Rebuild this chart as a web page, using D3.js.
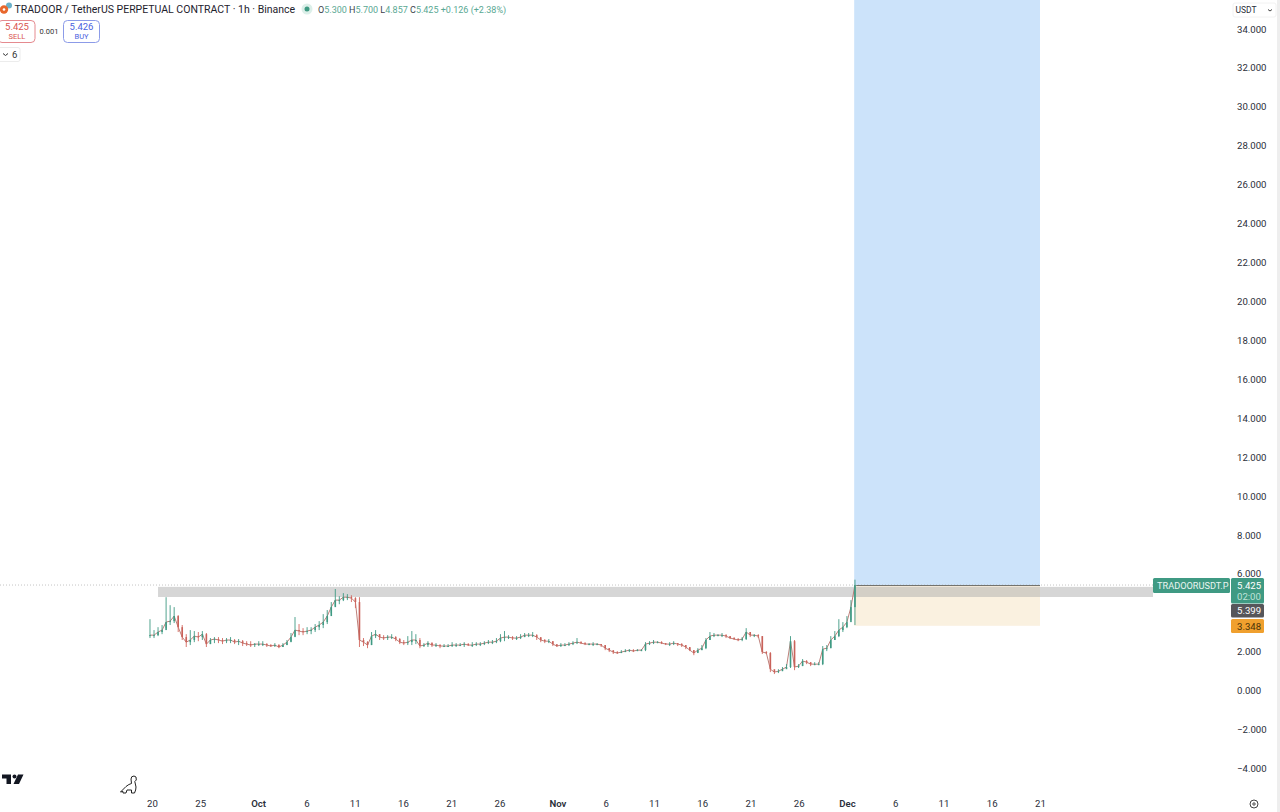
<!DOCTYPE html>
<html>

<head>
  <meta charset="utf-8">
  <script src="https://d3js.org/d3.v7.min.js"></script>
  <style>
    html, body {
      margin: 0;
      padding: 0;
      background: #fff;
      overflow: hidden;
    }

    svg {
      display: block;
      font-family: Roboto, sans-serif;
    }

    .axis text {
      font-size: 9.6px;
      fill: #2a2e39;
      font-family: Roboto, sans-serif;
    }

    .axis text.bold {
      font-weight: 600;
    }
  </style>
</head>

<body>
  <div id="chart"></div>
  <script>
    var yTicks = [34, 32, 30, 28, 26, 24, 22, 20, 18, 16, 14, 12, 10, 8, 6, 2, 0, -2, -4];

    var xTicks = ["2024-09-20", "2024-09-25", "2024-10-01", "2024-10-06", "2024-10-11", "2024-10-16",
      "2024-10-21", "2024-10-26", "2024-11-01", "2024-11-06", "2024-11-11", "2024-11-16", "2024-11-21",
      "2024-11-26", "2024-12-01", "2024-12-06", "2024-12-11", "2024-12-16", "2024-12-21"];

    // one candle every 10h
    var firstCandle = "2024-09-19T19:00";
    var candleMinutes = 601;

    var candleClose = [
      2.85, 2.85, 3.01, 3.11, 3.52, 3.57, 3.83, 3.26, 2.75, 2.49,
      2.60, 2.80, 2.75, 2.90, 2.39, 2.60, 2.65, 2.60, 2.54, 2.60,
      2.60, 2.49, 2.54, 2.44, 2.39, 2.34, 2.39, 2.39, 2.39, 2.34,
      2.29, 2.34, 2.24, 2.34, 2.49, 2.75, 3.11, 3.06, 3.01, 3.06,
      3.11, 3.26, 3.37, 3.52, 3.83, 4.29, 4.65, 4.65, 4.80, 4.80,
      4.75, 4.55, 2.60, 2.49, 2.34, 2.80, 2.90, 2.75, 2.70, 2.75,
      2.75, 2.65, 2.49, 2.44, 2.49, 2.60, 2.60, 2.29, 2.34, 2.44,
      2.34, 2.34, 2.29, 2.29, 2.29, 2.34, 2.34, 2.34, 2.39, 2.34,
      2.34, 2.39, 2.39, 2.44, 2.49, 2.49, 2.54, 2.70, 2.75, 2.75,
      2.70, 2.70, 2.75, 2.85, 2.85, 2.85, 2.75, 2.60, 2.54, 2.54,
      2.39, 2.29, 2.34, 2.34, 2.39, 2.44, 2.49, 2.44, 2.39, 2.39,
      2.39, 2.39, 2.34, 2.18, 2.08, 1.98, 1.93, 1.98, 2.03, 2.08,
      2.03, 2.08, 2.08, 2.39, 2.44, 2.49, 2.49, 2.44, 2.39, 2.39,
      2.44, 2.39, 2.34, 2.24, 2.08, 1.93, 2.08, 2.18, 2.60, 2.80,
      2.85, 2.85, 2.85, 2.80, 2.70, 2.65, 2.60, 2.65, 3.01, 2.85,
      2.85, 2.80, 1.98, 1.93, 1.10, 0.95, 1.00, 1.10, 1.21, 2.54,
      1.21, 1.26, 1.52, 1.46, 1.36, 1.36, 1.36, 2.13, 2.18, 2.60,
      2.80, 3.11, 3.26, 3.52, 4.29, 5.425
    ];

    var candleHigh = [
      3.67, 3.11, 3.26, 3.37, 4.80, 4.39, 4.29, 3.88, 3.37, 2.90,
      3.11, 3.06, 3.01, 3.06, 2.96, 2.70, 2.75, 2.75, 2.70, 2.70,
      2.75, 2.65, 2.65, 2.60, 2.54, 2.54, 2.44, 2.54, 2.54, 2.44,
      2.39, 2.44, 2.39, 2.44, 2.60, 2.96, 3.78, 3.42, 3.21, 3.26,
      3.26, 3.42, 3.57, 3.93, 4.14, 4.55, 5.22, 4.85, 5.01, 4.96,
      4.90, 4.80, 4.80, 2.70, 2.54, 3.01, 3.11, 2.90, 2.85, 2.85,
      2.90, 2.80, 2.70, 2.60, 2.80, 3.06, 2.90, 2.70, 2.44, 2.54,
      2.49, 2.44, 2.39, 2.39, 2.39, 2.49, 2.44, 2.44, 2.49, 2.44,
      2.49, 2.49, 2.49, 2.54, 2.60, 2.60, 2.70, 2.90, 3.06, 2.85,
      2.80, 2.80, 2.90, 2.96, 2.96, 3.01, 2.90, 2.70, 2.65, 2.65,
      2.54, 2.34, 2.44, 2.44, 2.49, 2.54, 2.70, 2.54, 2.49, 2.44,
      2.49, 2.44, 2.39, 2.34, 2.18, 2.03, 2.03, 2.08, 2.13, 2.13,
      2.13, 2.13, 2.13, 2.49, 2.54, 2.60, 2.54, 2.54, 2.44, 2.49,
      2.54, 2.44, 2.44, 2.34, 2.18, 2.08, 2.18, 2.34, 2.70, 3.01,
      2.96, 2.90, 2.96, 2.90, 2.80, 2.75, 2.70, 2.75, 3.21, 3.01,
      2.90, 2.90, 2.80, 2.03, 1.98, 1.05, 1.10, 1.21, 1.36, 2.80,
      2.60, 1.36, 1.62, 1.57, 1.46, 1.46, 1.46, 2.29, 2.34, 2.80,
      3.06, 3.67, 3.52, 3.83, 4.65, 5.70
    ];

    var candleLow = [
      2.70, 2.70, 2.80, 2.90, 3.21, 3.37, 3.47, 3.01, 2.60, 2.24,
      2.34, 2.49, 2.54, 2.60, 2.24, 2.39, 2.44, 2.44, 2.39, 2.44,
      2.44, 2.39, 2.34, 2.29, 2.29, 2.24, 2.24, 2.29, 2.29, 2.24,
      2.24, 2.24, 2.18, 2.24, 2.34, 2.54, 2.80, 2.85, 2.85, 2.90,
      2.90, 3.01, 3.11, 3.21, 3.42, 3.98, 4.34, 4.44, 4.60, 4.65,
      4.55, 4.24, 2.24, 2.29, 2.18, 2.34, 2.70, 2.60, 2.60, 2.60,
      2.65, 2.54, 2.39, 2.34, 2.34, 2.34, 2.39, 2.18, 2.24, 2.24,
      2.24, 2.24, 2.18, 2.24, 2.24, 2.24, 2.24, 2.29, 2.24, 2.29,
      2.24, 2.29, 2.29, 2.34, 2.39, 2.39, 2.44, 2.49, 2.54, 2.65,
      2.60, 2.60, 2.65, 2.75, 2.75, 2.75, 2.60, 2.49, 2.44, 2.44,
      2.29, 2.24, 2.24, 2.29, 2.29, 2.34, 2.39, 2.39, 2.34, 2.34,
      2.29, 2.34, 2.24, 2.08, 1.98, 1.88, 1.88, 1.93, 1.98, 1.98,
      1.98, 2.03, 2.03, 2.03, 2.34, 2.39, 2.44, 2.39, 2.34, 2.29,
      2.34, 2.29, 2.24, 2.13, 2.03, 1.82, 1.98, 2.08, 2.13, 2.60,
      2.75, 2.80, 2.75, 2.70, 2.65, 2.60, 2.54, 2.54, 2.60, 2.75,
      2.75, 2.70, 1.88, 1.88, 0.95, 0.85, 0.90, 1.00, 1.16, 1.16,
      1.05, 1.16, 1.26, 1.36, 1.26, 1.31, 1.31, 1.31, 2.03, 2.18,
      2.60, 2.75, 3.01, 3.21, 3.62, 3.37
    ];

    var lastPrice = 5.425;
    var bandTop = 5.33;
    var bandBottom = 4.81;
    var entryPrice = 5.399;
    var stopPrice = 3.33;
    var targetPrice = 36;
    var bandStart = "2024-09-20T15:00";
    var positionStart = "2024-12-01T18:00";
    var positionEnd = "2024-12-21";

    var green = "#3f9a83";
    var red = "#d4685f";

    var width = 1280, height = 812;
    var parseDay = d3.utcParse("%Y-%m-%d");
    var parseHour = d3.utcParse("%Y-%m-%dT%H:%M");

    var x = d3.scaleUtc()
      .domain([parseDay("2024-09-20"), parseDay("2024-12-21")])
      .range([152, 1040]);

    var y = d3.scaleLinear()
      .domain([0, 34])
      .range([690.6, 29]);

    var candles = candleClose.map((c, i) => ({
      time: d3.utcMinute.offset(parseHour(firstCandle), i * candleMinutes),
      open: i ? candleClose[i - 1] : c,
      high: candleHigh[i],
      low: candleLow[i],
      close: c
    }));

    var svg = d3.select("#chart").append("svg")
      .attr("width", width)
      .attr("height", height);

    svg.append("rect")
      .attr("x", 1277).attr("y", 0)
      .attr("width", 3).attr("height", height)
      .attr("fill", "#eeeeee");

    // long position tool
    var posX = x(parseHour(positionStart));
    var posW = x(parseDay(positionEnd)) - posX;

    svg.append("rect")
      .attr("x", posX).attr("y", y(targetPrice))
      .attr("width", posW).attr("height", y(entryPrice) - y(targetPrice))
      .attr("fill", "#cce3fa");

    svg.append("rect")
      .attr("x", posX).attr("y", y(entryPrice))
      .attr("width", posW).attr("height", y(stopPrice) - y(entryPrice))
      .attr("fill", "#faf1e0");

    // last price line
    svg.append("line")
      .attr("x1", 0).attr("x2", 1153)
      .attr("y1", y(lastPrice)).attr("y2", y(lastPrice))
      .attr("stroke", "#b5b5b5")
      .attr("stroke-width", 0.8)
      .attr("stroke-dasharray", "1,2");

    // grey zone
    svg.append("rect")
      .attr("x", x(parseHour(bandStart))).attr("y", y(bandTop))
      .attr("width", 1153 - x(parseHour(bandStart))).attr("height", y(bandBottom) - y(bandTop))
      .attr("fill", "#a8a8a8")
      .attr("fill-opacity", 0.47);

    svg.append("line")
      .attr("x1", posX + 2).attr("x2", posX + posW)
      .attr("y1", y(entryPrice)).attr("y2", y(entryPrice))
      .attr("stroke", "#6f6f6a")
      .attr("stroke-width", 1);

    // candles, too thin at this zoom to show as separate bars
    var candleG = svg.append("g")
      .style("filter", "blur(0.35px)");

    var closeLine = d3.line()
      .x(d => x(d.time))
      .y(d => y(d.close));

    candleG.append("path")
      .datum(candles)
      .attr("d", closeLine)
      .attr("fill", "none")
      .attr("stroke", "#b5706a")
      .attr("stroke-width", 0.9);

    candleG.selectAll("line").data(candles).enter().append("line")
      .attr("x1", d => x(d.time)).attr("x2", d => x(d.time))
      .attr("y1", d => y(d.high)).attr("y2", d => y(d.low))
      .attr("stroke", d => d.close >= d.open ? green : red)
      .attr("stroke-width", 0.9);

    candleG.selectAll("rect").data(candles).enter().append("rect")
      .attr("x", d => x(d.time) - 0.8)
      .attr("y", d => y(Math.max(d.open, d.close)))
      .attr("width", 1.6)
      .attr("height", d => Math.max(1, Math.abs(y(d.open) - y(d.close))))
      .attr("fill", d => d.close >= d.open ? green : "#c9625a");

    // axes
    var yAxis = svg.append("g")
      .attr("class", "axis")
      .attr("transform", "translate(1237,0)")
      .call(d3.axisRight(y)
        .tickValues(yTicks)
        .tickSize(0)
        .tickPadding(0)
        .tickFormat(d => (d < 0 ? "\u2212" : "") + d3.format(".3f")(Math.abs(d))));
    yAxis.select(".domain").remove();

    var xTickDates = xTicks.map(parseDay);
    var xAxis = svg.append("g")
      .attr("class", "axis")
      .attr("transform", "translate(0,800)")
      .call(d3.axisBottom(x)
        .tickValues(xTickDates)
        .tickSize(0)
        .tickPadding(0)
        .tickFormat(d => d.getUTCDate() == 1 ? d3.utcFormat("%b")(d) : d.getUTCDate()));
    xAxis.select(".domain").remove();
    xAxis.selectAll("text")
      .attr("class", d => d.getUTCDate() == 1 ? "bold" : null);

    // price tags
    function tag(x0, w, y0, h, fill) {
      svg.append("rect")
        .attr("x", x0).attr("y", y0)
        .attr("width", w).attr("height", h)
        .attr("rx", 1.5)
        .attr("fill", fill);
    }

    function tagText(x0, y0, str, fill, size) {
      svg.append("text")
        .attr("x", x0).attr("y", y0)
        .attr("font-size", size || 9.6)
        .attr("fill", fill)
        .text(str);
    }

    tag(1153, 77, y(lastPrice) - 7, 15, green);
    tagText(1157, y(lastPrice) + 3.5, "TRADOORUSDT.P", "#eaf5f1", 9.2);
    tag(1231, 33, y(lastPrice) - 7, 25.5, green);
    tagText(1237, y(lastPrice) + 3.5, d3.format(".3f")(lastPrice), "#ffffff");
    tagText(1237, y(lastPrice) + 14.5, "02:00", "#bfe3d8");
    tag(1231, 33, 604, 13.5, "#56565a");
    tagText(1237, 614.3, d3.format(".3f")(entryPrice), "#ffffff");
    tag(1231, 33, 619, 14, "#f0a02e");
    tagText(1237, 629.5, "3.348", "#4a3208");

    // header
    svg.append("circle").attr("cx", 9).attr("cy", 5.5).attr("r", 3).attr("fill", "#6bb0c9");
    svg.append("circle").attr("cx", 4).attr("cy", 9.5).attr("r", 4.2).attr("fill", "#e8672c");
    svg.append("circle").attr("cx", 4).attr("cy", 9.5).attr("r", 1.3).attr("fill", "#fff");

    svg.append("text")
      .attr("x", 14.5).attr("y", 13)
      .attr("font-size", 10.5)
      .attr("fill", "#1e222d")
      .text("TRADOOR / TetherUS PERPETUAL CONTRACT \u00b7 1h \u00b7 Binance");

    svg.append("circle").attr("cx", 307).attr("cy", 9).attr("r", 5.5).attr("fill", "#dcefe9");
    svg.append("circle").attr("cx", 307).attr("cy", 9).attr("r", 2.5).attr("fill", green);

    var legend = svg.append("text")
      .attr("x", 318).attr("y", 12.5)
      .attr("font-size", 9);
    [["O", "5.300 "], ["H", "5.700 "], ["L", "4.857 "], ["C", "5.425 "], ["", "+0.126 (+2.38%)"]].forEach(p => {
      legend.append("tspan").attr("fill", "#3b3f4a").text(p[0]);
      legend.append("tspan").attr("fill", "#5aa893").text(p[1]);
    });

    // sell / buy
    svg.append("rect")
      .attr("x", -2).attr("y", 20.5).attr("width", 37).attr("height", 22).attr("rx", 4)
      .attr("fill", "#fff").attr("stroke", "#e58a8f");
    svg.append("text").attr("x", 17).attr("y", 30).attr("text-anchor", "middle")
      .attr("font-size", 9.5).attr("fill", "#d9534f").text("5.425");
    svg.append("text").attr("x", 17).attr("y", 39).attr("text-anchor", "middle")
      .attr("font-size", 7.5).attr("fill", "#d9534f").text("SELL");

    svg.append("text").attr("x", 49).attr("y", 34).attr("text-anchor", "middle")
      .attr("font-size", 7.5).attr("fill", "#333").text("0.001");

    svg.append("rect")
      .attr("x", 63.5).attr("y", 20.5).attr("width", 36).attr("height", 22).attr("rx", 4)
      .attr("fill", "#fff").attr("stroke", "#8c9be8");
    svg.append("text").attr("x", 81.5).attr("y", 30).attr("text-anchor", "middle")
      .attr("font-size", 9.5).attr("fill", "#4a62e0").text("5.426");
    svg.append("text").attr("x", 81.5).attr("y", 39).attr("text-anchor", "middle")
      .attr("font-size", 7.5).attr("fill", "#4a62e0").text("BUY");

    svg.append("rect")
      .attr("x", -2).attr("y", 47.5).attr("width", 22).attr("height", 14).attr("rx", 2)
      .attr("fill", "#fff").attr("stroke", "#ececec");
    svg.append("path").attr("d", "M3,53.5l2.5,2l2.5,-2").attr("fill", "none").attr("stroke", "#333");
    svg.append("text").attr("x", 12).attr("y", 58).attr("font-size", 9.5).attr("fill", "#333").text("6");

    // currency menu
    svg.append("rect")
      .attr("x", 1233).attr("y", 3).attr("width", 43).attr("height", 14).attr("rx", 2)
      .attr("fill", "#fff").attr("stroke", "#f2f2f2");
    svg.append("text").attr("x", 1235.5).attr("y", 13).attr("font-size", 8.5).attr("fill", "#2a2e39").text("USDT");
    svg.append("path").attr("d", "M1268,9.5l2,1.5l2,-1.5").attr("fill", "none").attr("stroke", "#444");

    // tradingview logo
    svg.append("path")
      .attr("d", "M2,774.5h9v9.5h-4.5v-5.5h-4.5z M18,774.5h5.5l-4.5,9.5h-5.5z")
      .attr("fill", "#131722");
    svg.append("circle").attr("cx", 14.5).attr("cy", 776.5).attr("r", 2).attr("fill", "#131722");

    // dino
    svg.append("path")
      .attr("d", "M120.5,792 L126,786.5 Q129,784 131.5,783.5 L131,779 Q131,776 134,776 L136,777 L136.3,780 L134.8,781.5 L136,787 Q136,790 134.5,793 L131.5,793 L131.5,790 L127,790 L126,793 L123,793 L123,791.5 Z")
      .attr("fill", "#fff")
      .attr("stroke", "#222")
      .attr("stroke-width", 1);

    // settings
    svg.append("circle").attr("cx", 1254).attr("cy", 804).attr("r", 4).attr("fill", "none").attr("stroke", "#444");
    svg.append("circle").attr("cx", 1254).attr("cy", 804).attr("r", 1.2).attr("fill", "none").attr("stroke", "#444");
  </script>
</body>

</html>
